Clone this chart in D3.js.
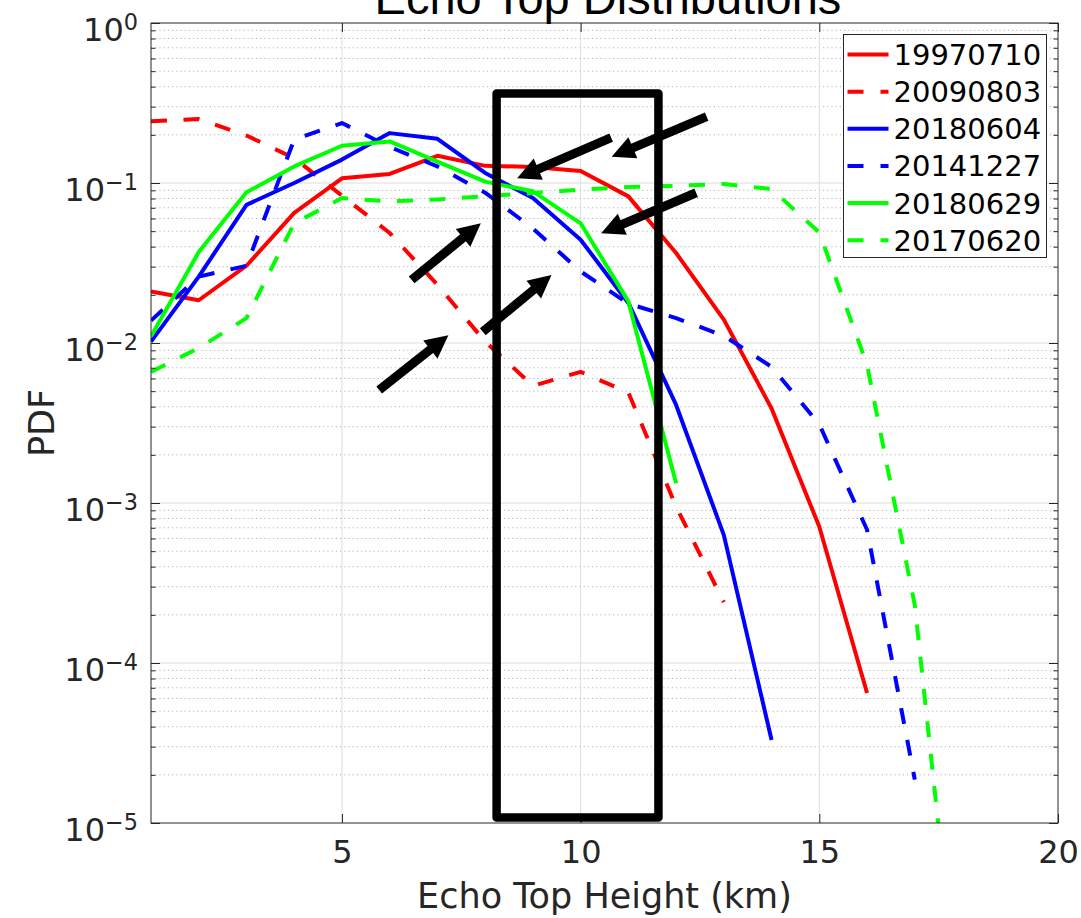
<!DOCTYPE html>
<html>
<head>
<meta charset="utf-8">
<script src="https://cdn.jsdelivr.net/npm/d3@7"></script>
<style>
  body { margin: 0; background: #fff; }
  svg { display: block; }
</style>
</head>
<body>
<svg id="chart" width="1081" height="918"></svg>
<script>
// echo top height bins (km)
const heights = [1, 2, 3, 4, 5, 6, 7, 8, 9, 10, 11, 12, 13, 14, 15, 16, 17, 18];

// PDF values, one array per case
const pdf19970710 = [0.021, 0.0185, 0.0304, 0.065, 0.107, 0.114, 0.148, 0.128, 0.126, 0.119, 0.0825, 0.0365, 0.014, 0.0039, 0.00071, 0.000065];
const pdf20090803 = [0.243, 0.251, 0.198, 0.143, 0.0833, 0.0487, 0.0231, 0.0102, 0.0054, 0.0066, 0.0049, 0.00095, 0.00024];
const pdf20180604 = [0.0102, 0.026, 0.073, 0.1, 0.14, 0.205, 0.189, 0.1155, 0.0806, 0.0442, 0.0178, 0.0041, 0.00063, 0.000033];
const pdf20141227 = [0.0138, 0.026, 0.0304, 0.187, 0.237, 0.168, 0.127, 0.087, 0.052, 0.028, 0.0176, 0.0143, 0.0111, 0.0071, 0.0031, 0.00068, 0.0000187];
const pdf20180629 = [0.011, 0.037, 0.0874, 0.127, 0.171, 0.182, 0.136, 0.102, 0.0887, 0.056, 0.0182, 0.00133];
const pdf20170620 = [0.0066, 0.0093, 0.0143, 0.056, 0.0805, 0.0767, 0.079, 0.0825, 0.0866, 0.0908, 0.0944, 0.096, 0.0986, 0.0917, 0.049, 0.0073, 0.00023, 0.00000038];

const caseNames = ["19970710", "20090803", "20180604", "20141227", "20180629", "20170620"];
const caseValues = [pdf19970710, pdf20090803, pdf20180604, pdf20141227, pdf20180629, pdf20170620];
const caseColors = ["#ff0000", "#ff0000", "#0000ff", "#0000ff", "#00ff00", "#00ff00"];
const caseDashed = [false, true, false, true, false, true];

const xTicks = [5, 10, 15, 20];
const yDecades = [1e-5, 1e-4, 1e-3, 1e-2, 1e-1, 1];
const yExponents = ["\u22125", "\u22124", "\u22123", "\u22122", "\u22121", "0"];

// annotations (data units): highlight box and arrows
const boxX = [8.24, 11.63];
const boxY = [1.082e-5, 0.3625];
const arrowTails = [[12.64, 0.2597], [10.64, 0.192], [12.42, 0.0869], [6.46, 0.0248], [5.78, 0.00508], [7.95, 0.01177]];
const arrowTips = [[10.65, 0.146], [8.67, 0.107], [10.43, 0.0485], [7.91, 0.056], [7.23, 0.0112], [9.39, 0.0266]];

var svg = d3.select("#chart");
// plot area in pixels
var pLeft = 151, pRight = 1058, pTop = 23, pBottom = 823;
var axisColor = "#262626";
var tickFont = "'DejaVu Sans', sans-serif";

var x = d3.scaleLinear().domain([1, 20]).range([pLeft, pRight]);
var y = d3.scaleLog().domain([1e-5, 1]).range([pBottom, pTop]);

// minor values 2..9 x each decade
var yMinor = [];
yDecades.slice(0, -1).forEach(d => {
    for (let k = 2; k <= 9; k++) yMinor.push(k * d);
});

svg.append("defs").append("clipPath").attr("id", "plotClip")
    .append("rect")
    .attr("x", pLeft).attr("y", pTop)
    .attr("width", pRight - pLeft).attr("height", pBottom - pTop);

// grid
var grid = svg.append("g").attr("class", "grid");
grid.selectAll("line.minor")
    .data(yMinor)
    .enter().append("line")
    .attr("class", "minor")
    .attr("x1", pLeft).attr("x2", pRight)
    .attr("y1", d => y(d)).attr("y2", d => y(d))
    .attr("stroke", "#b4b4b4")
    .attr("stroke-width", 1)
    .attr("stroke-dasharray", "1.2,3");
grid.selectAll("line.ymajor")
    .data(yDecades.slice(1, -1))
    .enter().append("line")
    .attr("class", "ymajor")
    .attr("x1", pLeft).attr("x2", pRight)
    .attr("y1", d => y(d)).attr("y2", d => y(d))
    .attr("stroke", "#dcdcdc")
    .attr("stroke-width", 1);
grid.selectAll("line.xmajor")
    .data(xTicks.slice(0, -1))
    .enter().append("line")
    .attr("class", "xmajor")
    .attr("x1", d => x(d)).attr("x2", d => x(d))
    .attr("y1", pTop).attr("y2", pBottom)
    .attr("stroke", "#dcdcdc")
    .attr("stroke-width", 1);

// series
var line = d3.line()
    .x((d, i) => x(heights[i]))
    .y(d => y(d));

svg.append("g")
    .attr("clip-path", "url(#plotClip)")
    .selectAll("path.series")
    .data(caseValues)
    .enter().append("path")
    .attr("class", "series")
    .attr("d", d => line(d))
    .attr("fill", "none")
    .attr("stroke", (d, i) => caseColors[i])
    .attr("stroke-width", 4)
    .attr("stroke-linejoin", "round")
    .attr("stroke-dasharray", (d, i) => caseDashed[i] ? "16,16.5" : null);

// axes
function styleAxis(g) {
    g.select(".domain").remove();
    g.selectAll(".tick line").attr("stroke", axisColor).attr("stroke-width", 1);
    g.selectAll(".tick text")
        .attr("fill", axisColor)
        .attr("font-family", tickFont)
        .attr("font-size", 32);
}

svg.append("g")
    .attr("transform", `translate(0,${pBottom})`)
    .call(d3.axisBottom(x).tickValues(xTicks).tickSize(-9).tickPadding(17))
    .call(styleAxis);
svg.append("g")
    .attr("transform", `translate(0,${pTop})`)
    .call(d3.axisTop(x).tickValues(xTicks).tickSize(-9).tickFormat(""))
    .call(styleAxis);

var yAxisG = svg.append("g")
    .attr("transform", `translate(${pLeft},0)`)
    .call(d3.axisLeft(y).tickValues(yDecades).tickSize(-9).tickPadding(13))
    .call(styleAxis);
yAxisG.selectAll(".tick text")
    .attr("dy", "0.56em")
    .text(null)
    .each(function (d, i) {
        const t = d3.select(this);
        t.append("tspan").text("10");
        t.append("tspan").attr("dy", "-0.5em").attr("font-size", "0.7em").text(yExponents[i]);
    });
svg.append("g")
    .attr("transform", `translate(${pLeft},0)`)
    .call(d3.axisLeft(y).tickValues(yMinor).tickSize(-4.5).tickFormat(""))
    .call(styleAxis);
svg.append("g")
    .attr("transform", `translate(${pRight},0)`)
    .call(d3.axisRight(y).tickValues(yDecades).tickSize(-9).tickFormat(""))
    .call(styleAxis);
svg.append("g")
    .attr("transform", `translate(${pRight},0)`)
    .call(d3.axisRight(y).tickValues(yMinor).tickSize(-4.5).tickFormat(""))
    .call(styleAxis);

// axes box
svg.append("rect")
    .attr("x", pLeft).attr("y", pTop)
    .attr("width", pRight - pLeft).attr("height", pBottom - pTop)
    .attr("fill", "none")
    .attr("stroke", axisColor)
    .attr("stroke-width", 1);

// highlight box
svg.append("rect")
    .attr("x", x(boxX[0])).attr("y", y(boxY[1]))
    .attr("width", x(boxX[1]) - x(boxX[0]))
    .attr("height", y(boxY[0]) - y(boxY[1]))
    .attr("fill", "none")
    .attr("stroke", "black")
    .attr("stroke-width", 8.5)
    .attr("stroke-linejoin", "round");

// arrows
var headLen = 23, headHalf = 11.5;
var arrows = svg.append("g").attr("class", "arrows");
arrowTails.forEach((tail, i) => {
    const tip = arrowTips[i];
    const x0 = x(tail[0]), y0 = y(tail[1]);
    const x1 = x(tip[0]), y1 = y(tip[1]);
    const len = Math.hypot(x1 - x0, y1 - y0);
    const ux = (x1 - x0) / len, uy = (y1 - y0) / len;
    const bx = x1 - ux * headLen, by = y1 - uy * headLen;
    arrows.append("line")
        .attr("x1", x0).attr("y1", y0)
        .attr("x2", bx + ux * 2).attr("y2", by + uy * 2)
        .attr("stroke", "black")
        .attr("stroke-width", 9);
    arrows.append("polygon")
        .attr("points", [
            [x1, y1],
            [bx - uy * headHalf, by + ux * headHalf],
            [bx + uy * headHalf, by - ux * headHalf]
        ].map(p => p.join(",")).join(" "))
        .attr("fill", "black");
});

// legend
var legend = svg.append("g").attr("class", "legend");
var legX = 843.5, legY = 34.5, legW = 203, legH = 223, rowH = 37.15;
legend.append("rect")
    .attr("x", legX).attr("y", legY)
    .attr("width", legW).attr("height", legH)
    .attr("fill", "white")
    .attr("stroke", axisColor)
    .attr("stroke-width", 1);
caseNames.forEach((name, i) => {
    const cy = legY + 20 + i * rowH;
    legend.append("line")
        .attr("x1", legX + 4).attr("x2", legX + 45)
        .attr("y1", cy).attr("y2", cy)
        .attr("stroke", caseColors[i])
        .attr("stroke-width", 4)
        .attr("stroke-dasharray", caseDashed[i] ? "16,17" : null);
    legend.append("text")
        .attr("x", legX + 50).attr("y", cy + 10.5)
        .attr("font-family", tickFont)
        .attr("font-size", 29)
        .attr("fill", "black")
        .text(name);
});

// labels
svg.append("text")
    .attr("x", (pLeft + pRight) / 2).attr("y", 908)
    .attr("text-anchor", "middle")
    .attr("font-family", tickFont)
    .attr("font-size", 35)
    .attr("fill", axisColor)
    .text("Echo Top Height (km)");
svg.append("text")
    .attr("transform", `translate(54,${(pTop + pBottom) / 2}) rotate(-90)`)
    .attr("text-anchor", "middle")
    .attr("font-family", tickFont)
    .attr("font-size", 35)
    .attr("fill", axisColor)
    .text("PDF");
svg.append("text")
    .attr("x", 608).attr("y", 14)
    .attr("text-anchor", "middle")
    .attr("font-family", "'Liberation Sans', Arial, sans-serif")
    .attr("font-size", 47)
    .attr("fill", "black")
    .text("Echo Top Distributions");
</script>
</body>
</html>
